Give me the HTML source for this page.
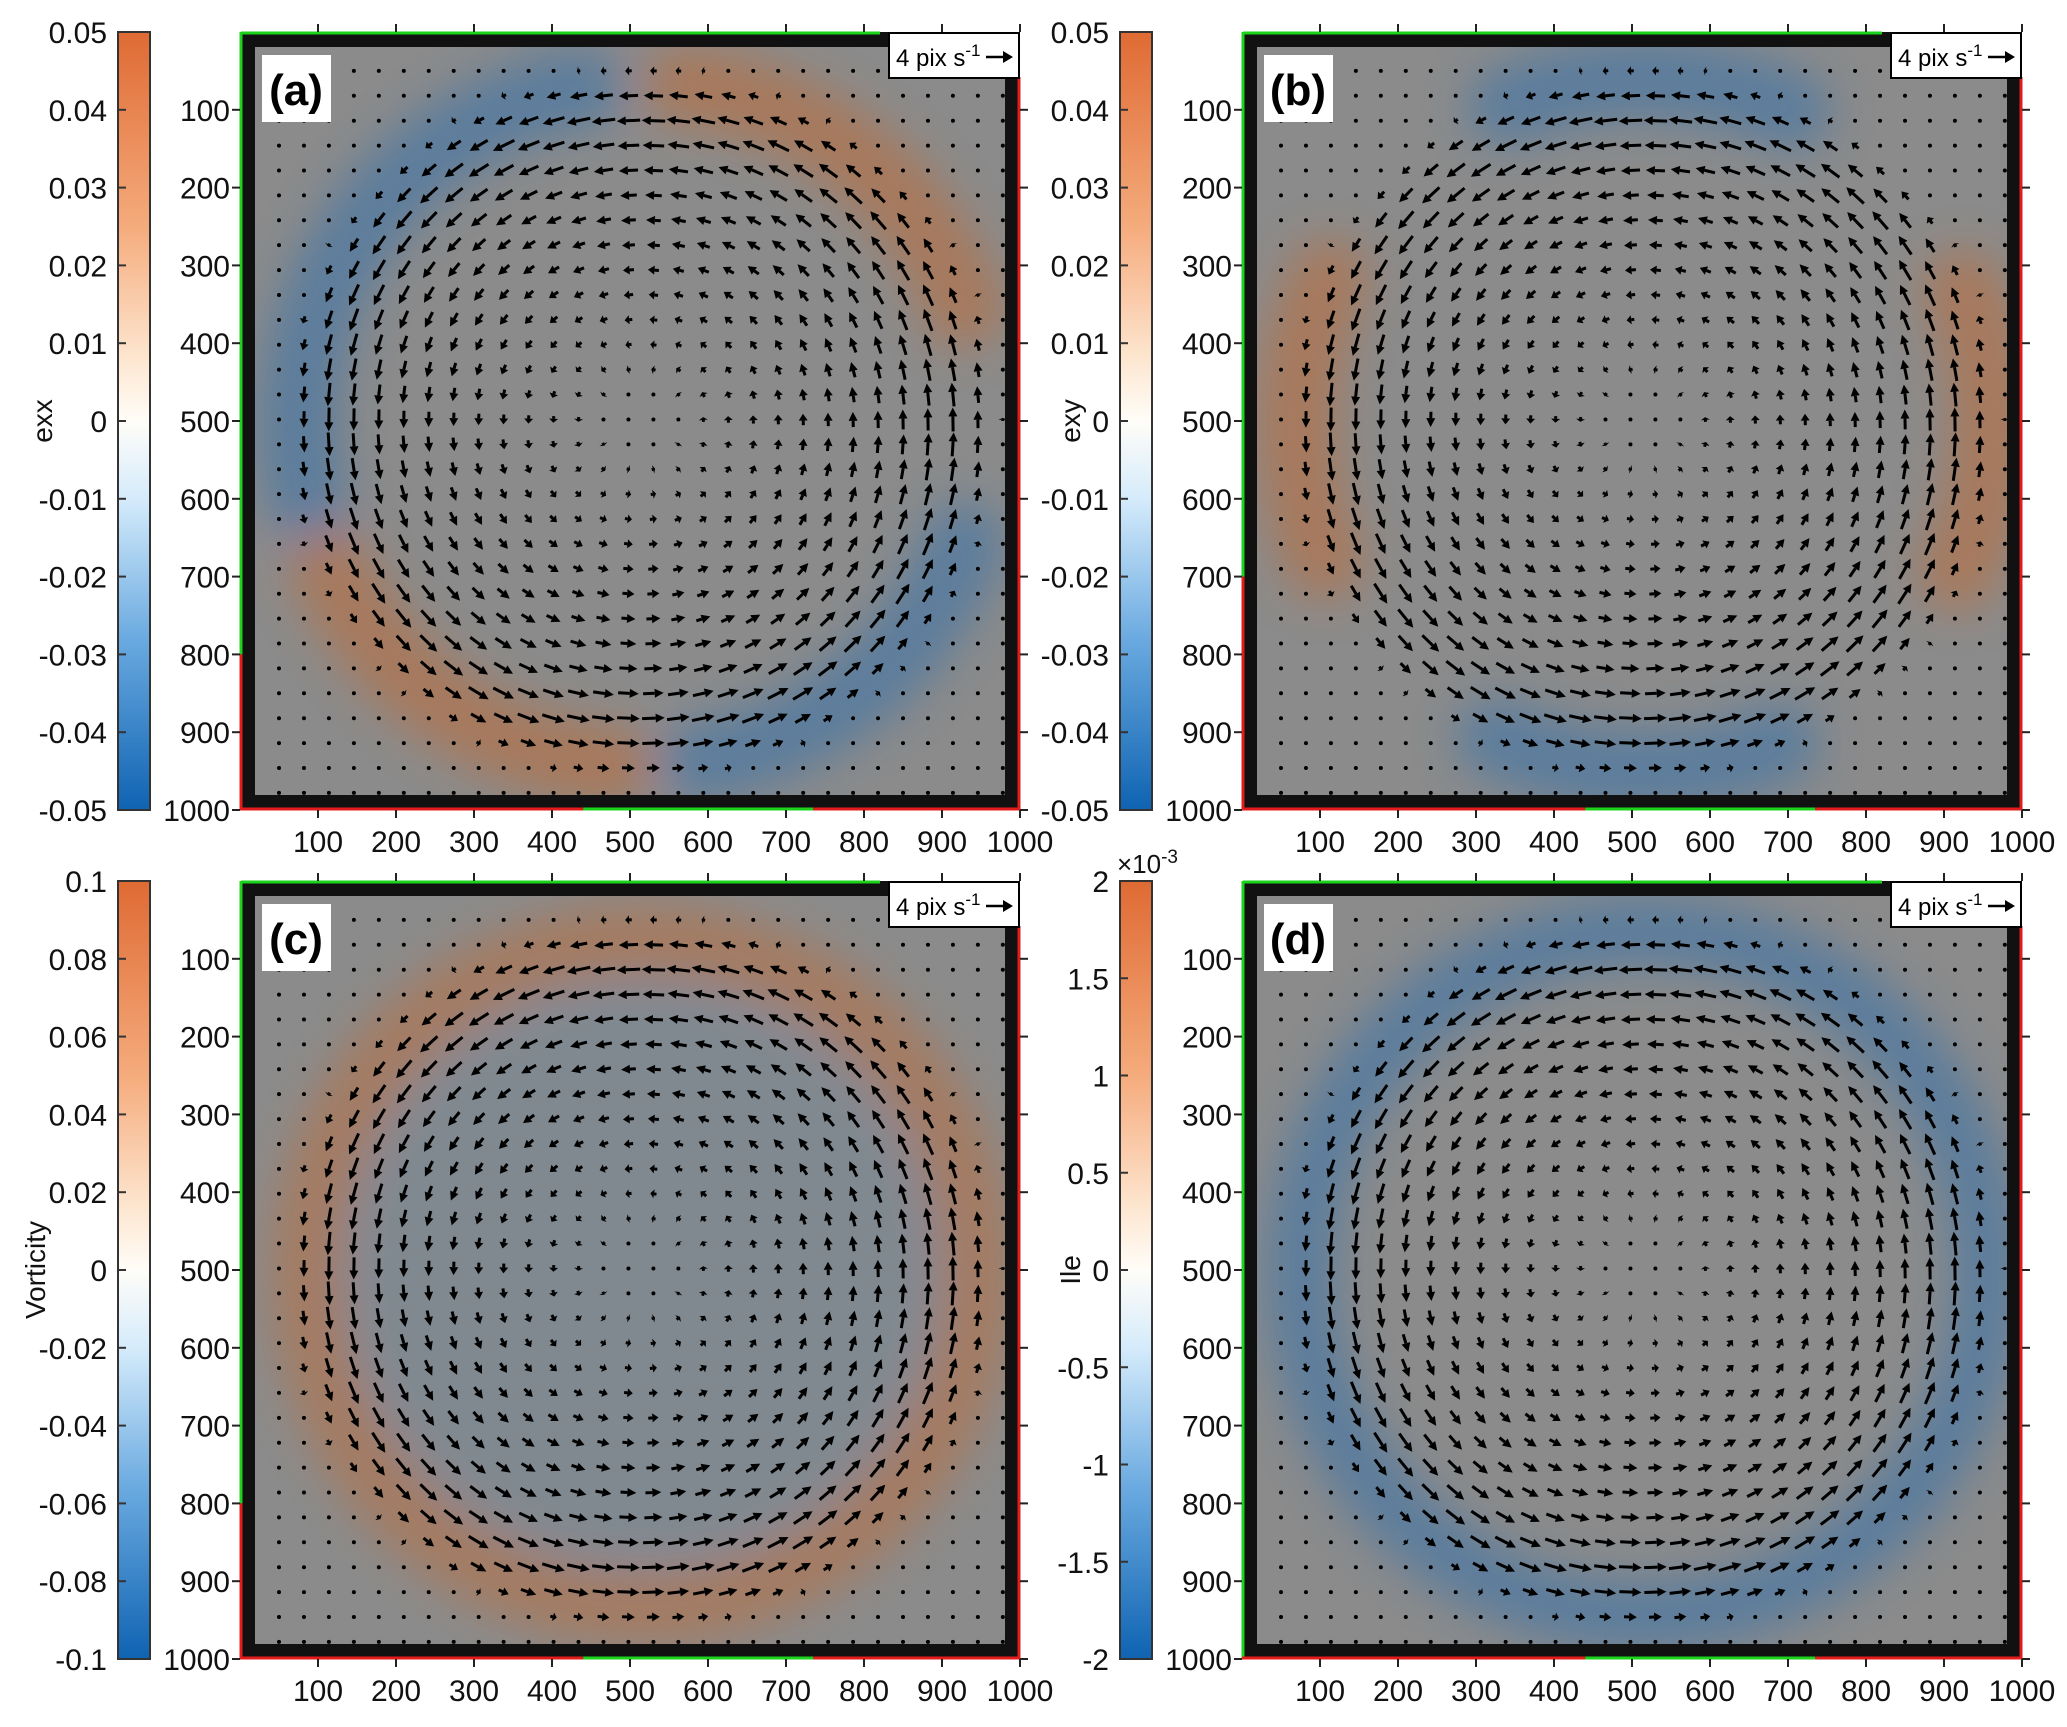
<!DOCTYPE html>
<html><head><meta charset="utf-8">
<style>
html,body{margin:0;padding:0;background:#fff;}
body{width:2067px;height:1722px;overflow:hidden;font-family:"Liberation Sans",Arial,sans-serif;}
svg text{font-family:"Liberation Sans",Arial,sans-serif;}
</style></head>
<body>
<svg id="fig" width="2067" height="1722" viewBox="0 0 2067 1722" xmlns="http://www.w3.org/2000/svg">
<defs>
<filter id="blur" x="-20%" y="-20%" width="140%" height="140%"><feGaussianBlur stdDeviation="22"/></filter>
<linearGradient id="cmap" x1="0" y1="0" x2="0" y2="1">
<stop offset="0" stop-color="#df6a33"/>
<stop offset="0.25" stop-color="#f5ab7c"/>
<stop offset="0.42" stop-color="#fde6d0"/>
<stop offset="0.5" stop-color="#fffdf8"/>
<stop offset="0.6" stop-color="#d5ebfb"/>
<stop offset="0.78" stop-color="#6aaae0"/>
<stop offset="1" stop-color="#0f63b2"/>
</linearGradient>
</defs>
</svg>
<script>
// ---- data ----
const axisTicks = [100,200,300,400,500,600,700,800,900,1000];
const cbTicksA = ["0.05","0.04","0.03","0.02","0.01","0","-0.01","-0.02","-0.03","-0.04","-0.05"];
const cbTicksB = ["0.05","0.04","0.03","0.02","0.01","0","-0.01","-0.02","-0.03","-0.04","-0.05"];
const cbTicksC = ["0.1","0.08","0.06","0.04","0.02","0","-0.02","-0.04","-0.06","-0.08","-0.1"];
const cbTicksD = ["2","1.5","1","0.5","0","-0.5","-1","-1.5","-2"];
// arrow length (px) vs radius (data units)
const profileR = [0, 100, 200, 300, 350, 400, 430, 450, 470];
const profileL = [0, 6, 11, 17, 21, 24, 18, 9, 0];
const vortexCenter = [515, 505];
// coloured bands: [startDeg, endDeg, colour]
const bandsA = [[100,195,"#2f6fae"],[20,85,"#c4682e"],[205,265,"#c4682e"],[280,340,"#2f6fae"]];
const bandsB = [[155,205,"#c4682e"],[-25,25,"#c4682e"],[65,115,"#2f6fae"],[245,295,"#2f6fae"]];
const bandsC = [[0,360,"#c4682e"]];
const bandsD = [[0,360,"#2f6fae"]];

const NS="http://www.w3.org/2000/svg";
const svg=document.getElementById('fig');
function mk(tag,attrs,parent){const e=document.createElementNS(NS,tag);for(const k in attrs)e.setAttribute(k,attrs[k]);(parent||svg).appendChild(e);return e;}

function speedAt(r){
  for(let i=1;i<profileR.length;i++){
    if(r<=profileR[i]){const t=(r-profileR[i-1])/(profileR[i]-profileR[i-1]);return profileL[i-1]+t*(profileL[i]-profileL[i-1]);}
  }
  return 0;
}

function panel(cfg){
  const X0=cfg.x, Y0=cfg.y, W=780, H=778;
  const sx=v=>X0+v*W/1000, sy=v=>Y0+v*H/1000;
  const g=mk('g',{});
  
  
  mk('rect',{x:X0,y:Y0,width:W,height:H,fill:'#111'},g);
  mk('rect',{x:X0+15,y:Y0+15,width:W-30,height:H-30,fill:'#8b8b8b'},g);
  const clip=mk('clipPath',{id:'clip'+cfg.id},g);
  mk('rect',{x:X0+15,y:Y0+15,width:W-30,height:H-30},clip);
  const field=mk('g',{'clip-path':'url(#clip'+cfg.id+')'},g);
  
  
  const fg=mk('g',{filter:'url(#blur)',opacity:cfg.op},field);
  if(cfg.inner){mk('ellipse',{cx:sx(vortexCenter[0]),cy:sy(vortexCenter[1]),rx:380*W/1000,ry:375*H/1000,fill:cfg.inner,opacity:0.4},fg);}
  const rx=cfg.rad*W/1000, ry=cfg.rad*H/1000;
  cfg.bands.forEach(b=>{
    const cx=sx(vortexCenter[0]), cy=sy(vortexCenter[1]);
    let d='';
    if(b[1]-b[0]>=360){
      const p=mk('ellipse',{cx:cx,cy:cy,rx:rx,ry:ry,fill:'none',stroke:b[2],'stroke-width':cfg.bw},fg);
      
      
      return;
    }
    for(let a=b[0];a<=b[1];a+=3){const t=a*Math.PI/180;d+=(d?'L':'M')+(cx+rx*Math.cos(t)).toFixed(1)+','+(cy-ry*Math.sin(t)).toFixed(1);}
    const p=mk('path',{d:d,fill:'none',stroke:b[2],'stroke-width':cfg.bw,'stroke-linecap':'round'},fg);
    
    
  });
  const q=mk('g',{fill:'#000',stroke:'#000'},field);
  
  
  for(let gx=50;gx<=980;gx+=32){
    for(let gy=50;gy<=980;gy+=32){
      const dx=gx-vortexCenter[0], dy=gy-vortexCenter[1];
      const r=Math.hypot(dx,dy);
      const L=speedAt(r);
      const px=sx(gx), py=sy(gy);
      if(L<3){mk('circle',{cx:px,cy:py,r:2,stroke:'none'},q);continue;}
      const ux=dy/r, uy=-dx/r;
      const x1=px-ux*L/2, y1=py-uy*L/2, x2=px+ux*L/2, y2=py+uy*L/2;
      const hl=Math.min(9,L*0.6), hw=4.5;
      const bx=x2-ux*hl, by=y2-uy*hl;
      mk('line',{x1:x1,y1:y1,x2:bx,y2:by,'stroke-width':3},q);
      mk('polygon',{points:`${x2},${y2} ${bx-uy*hw},${by+ux*hw} ${bx+uy*hw},${by-ux*hw}`,stroke:'none'},q);
    }
  }
  mk('line',{x1:X0+1,y1:Y0+1,x2:X0+W-140,y2:Y0+1,stroke:'#1bd31b','stroke-width':3},g);
  mk('line',{x1:X0+1,y1:Y0,x2:X0+1,y2:sy(cfg.leftSplit),stroke:'#1bd31b','stroke-width':3},g);
  mk('line',{x1:X0+1,y1:sy(cfg.leftSplit),x2:X0+1,y2:Y0+H,stroke:'#e41b1b','stroke-width':3},g);
  mk('line',{x1:X0+W-1,y1:Y0+45,x2:X0+W-1,y2:Y0+H,stroke:'#e41b1b','stroke-width':3},g);
  mk('line',{x1:X0,y1:Y0+H-1,x2:sx(440),y2:Y0+H-1,stroke:'#e41b1b','stroke-width':3},g);
  mk('line',{x1:sx(440),y1:Y0+H-1,x2:sx(735),y2:Y0+H-1,stroke:'#1bd31b','stroke-width':3},g);
  mk('line',{x1:sx(735),y1:Y0+H-1,x2:X0+W,y2:Y0+H-1,stroke:'#e41b1b','stroke-width':3},g);
  const ax=mk('g',{stroke:'#222','stroke-width':2},g);
  axisTicks.forEach(v=>{
    mk('line',{x1:sx(v),y1:Y0,x2:sx(v),y2:Y0-8},ax);
    mk('line',{x1:sx(v),y1:Y0+H,x2:sx(v),y2:Y0+H+8},ax);
    mk('line',{x1:X0,y1:sy(v),x2:X0-8,y2:sy(v)},ax);
    mk('line',{x1:X0+W,y1:sy(v),x2:X0+W+8,y2:sy(v)},ax);
    const tx=mk('text',{x:sx(v),y:Y0+H+42,'font-size':30,'text-anchor':'middle',fill:'#111'},g);
    tx.textContent=v;
    
    
    const ty=mk('text',{x:X0-10,y:sy(v)+11,'font-size':30,'text-anchor':'end',fill:'#111'},g);
    ty.textContent=v;
    
    
  });
  const lb=mk('g',{},g);
  
  
  mk('rect',{x:X0+22,y:Y0+23,width:69,height:67,fill:'#fff'},lb);
  const lt=mk('text',{x:X0+56,y:Y0+73,'font-size':44,'font-weight':'bold','text-anchor':'middle',fill:'#000'},lb);
  lt.textContent=cfg.label;
  const sl=mk('g',{},g);
  
  
  mk('rect',{x:X0+W-131,y:Y0+1,width:130,height:45,fill:'#fff',stroke:'#000','stroke-width':2},sl);
  const st=mk('text',{x:X0+W-124,y:Y0+34,'font-size':24,fill:'#000'},sl);
  st.innerHTML='4 pix s<tspan dy="-10" font-size="17">-1</tspan>';
  mk('line',{x1:X0+W-34,y1:Y0+25,x2:X0+W-14,y2:Y0+25,stroke:'#000','stroke-width':2.5},sl);
  mk('polygon',{points:`${X0+W-7},${Y0+25} ${X0+W-17},${Y0+19} ${X0+W-17},${Y0+31}`,fill:'#000'},sl);
  const cb=mk('g',{},g);
  
  
  const cbx=cfg.cbx, cbw=32;
  mk('rect',{x:cbx,y:Y0,width:cbw,height:H,fill:'url(#cmap)',stroke:'#333','stroke-width':2},cb);
  const n=cfg.ticks.length;
  cfg.ticks.forEach((t,i)=>{
    const yy=Y0+i*H/(n-1);
    mk('line',{x1:cbx,y1:yy,x2:cbx+8,y2:yy,stroke:'#333','stroke-width':2},cb);
    const tt=mk('text',{x:cbx-11,y:yy+11,'font-size':30,'text-anchor':'end',fill:'#111'},cb);
    tt.textContent=t;
    
    
  });
  const ct=mk('text',{x:cfg.titleX,y:Y0+H/2,'font-size':28,'text-anchor':'middle',fill:'#111',transform:`rotate(-90 ${cfg.titleX} ${Y0+H/2})`},cb);
  ct.textContent=cfg.title;
  
  
  if(cfg.exp){
    const et=mk('text',{x:cbx-3,y:Y0-8,'font-size':26,fill:'#111'},cb);
    et.innerHTML='×10<tspan dy="-10" font-size="19">-3</tspan>';
  }
}

panel({id:'a',name:'panel-a',x:240,y:32,cbx:118,label:'(a)',ticks:cbTicksA,title:'exx',titleX:52,bands:bandsA,rad:440,bw:80,op:0.5,leftSplit:800});
panel({id:'b',name:'panel-b',x:1242,y:32,cbx:1120,label:'(b)',ticks:cbTicksB,title:'exy',titleX:1080,bands:bandsB,rad:445,bw:80,op:0.5,leftSplit:700});
panel({id:'c',name:'panel-c',x:240,y:881,cbx:118,label:'(c)',ticks:cbTicksC,title:'Vorticity',titleX:45,bands:bandsC,rad:430,bw:70,op:0.45,inner:'#4f7fa8',leftSplit:800});
panel({id:'d',name:'panel-d',x:1242,y:881,cbx:1120,label:'(d)',ticks:cbTicksD,title:'Ile',titleX:1080,bands:bandsD,rad:440,bw:70,op:0.5,leftSplit:1000,exp:true});
</script>
</body></html>
